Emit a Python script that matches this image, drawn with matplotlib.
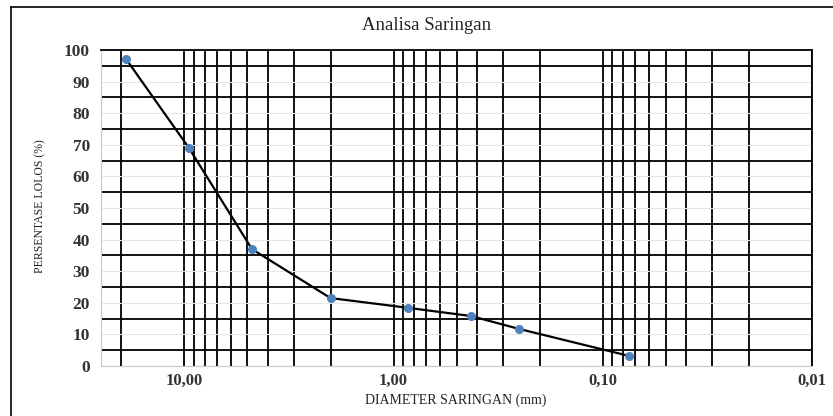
import numpy as np
import matplotlib.pyplot as plt
from matplotlib.ticker import FixedLocator, FuncFormatter, LogLocator, NullFormatter
from matplotlib.lines import Line2D

# sieve analysis data
diameter = [19.0, 9.5, 4.75, 2.0, 0.85, 0.425, 0.25, 0.075]
lolos = [97.2, 69.0, 37.0, 21.5, 18.4, 15.8, 11.7, 3.2]
x_major = [10, 1, 0.1, 0.01]
y_major = [0, 10, 20, 30, 40, 50, 60, 70, 80, 90, 100]
y_minor = [5, 15, 25, 35, 45, 55, 65, 75, 85, 95]

plt.rcParams['font.family'] = ['Liberation Serif', 'DejaVu Serif']

fig = plt.figure(figsize=(8.33, 4.16), dpi=100)
ax = fig.add_axes([101 / 833, 1 - 366 / 416, (812 - 101) / 833, (366 - 50) / 416])

ax.set_xscale('log')
ax.set_xlim(25, 0.01)
ax.set_ylim(0, 100)

ax.xaxis.set_major_locator(FixedLocator(x_major))
ax.xaxis.set_major_formatter(FuncFormatter(lambda v, p: ('%.2f' % v).replace('.', ',')))
ax.xaxis.set_minor_locator(LogLocator(base=10, subs=np.arange(2, 10)))
ax.xaxis.set_minor_formatter(NullFormatter())
ax.set_yticks(y_major)
ax.set_yticks(y_minor, minor=True)

ax.grid(which='both', axis='x', color='black', lw=1.3)
ax.grid(which='major', axis='y', color='#e6e6e6', lw=0.8)
ax.grid(which='minor', axis='y', color='black', lw=1.3)
ax.set_axisbelow(True)

ax.tick_params(which='both', length=0)
ax.tick_params(axis='y', pad=8, labelsize=12.5)
ax.tick_params(axis='x', pad=5, labelsize=12)
for lab in ax.get_xticklabels() + ax.get_yticklabels():
    lab.set_fontweight('bold')
    lab.set_color('#333333')

ax.spines['left'].set_color('#c8c8c8')
ax.spines['bottom'].set_color('#c8c8c8')
ax.spines['top'].set_color('black')
ax.spines['top'].set_linewidth(1.3)
ax.spines['right'].set_color('black')
ax.spines['right'].set_linewidth(1.3)

ax.plot(diameter, lolos, color='black', lw=1.6, zorder=3)
ax.plot(diameter, lolos, 'o', color='#4f81bd', ms=5.5, zorder=4)

fig.text(427 / 833, 1 - 26 / 416, 'Analisa Saringan', ha='center', va='center', fontsize=13.5, color='#222222')
fig.text(456 / 833, 1 - 400 / 416, 'DIAMETER SARINGAN (mm)', ha='center', va='center', fontsize=10, color='#222222')
fig.text(40 / 833, 1 - 206 / 416, 'PERSENTASE LOLOS (%)', ha='center', va='center', rotation=90,
         fontsize=8.5, color='#222222', fontstretch='condensed')

# outer chart frame
fx = 11 / 833
fy = 1 - 7 / 416
fig.add_artist(Line2D([fx, fx], [0, fy], transform=fig.transFigure, color='black', lw=1.2))
fig.add_artist(Line2D([fx, 1], [fy, fy], transform=fig.transFigure, color='black', lw=1.2))

fig.savefig('out.png', dpi=100)
